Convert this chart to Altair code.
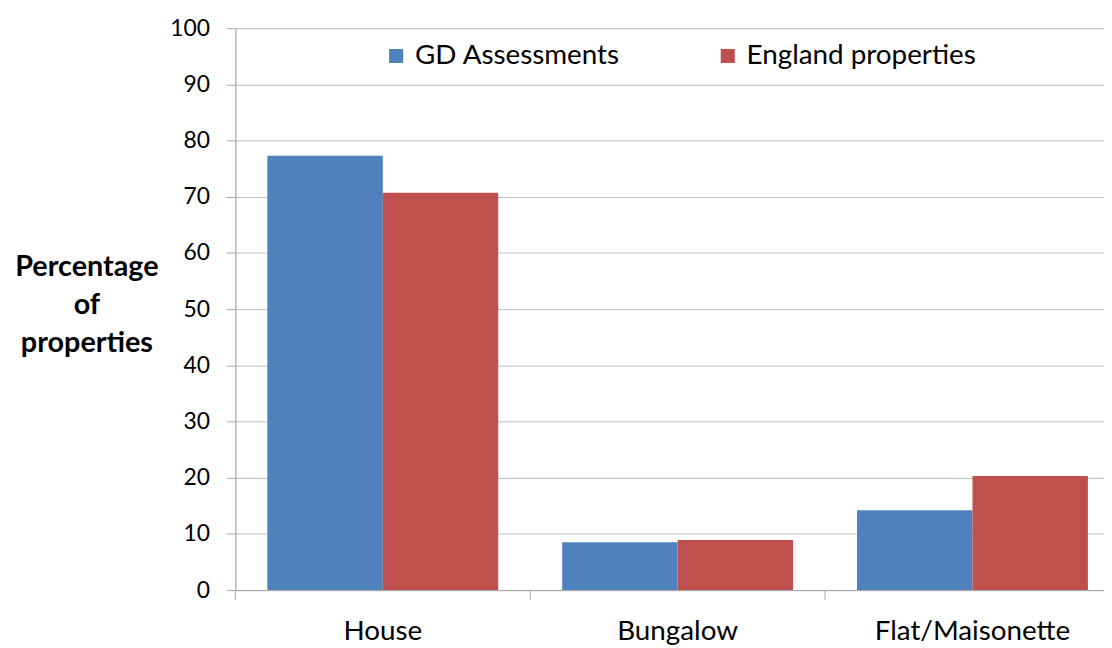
import altair as alt
import pandas as pd

categories = ["House", "Bungalow", "Flat/Maisonette"]
series = ["GD Assessments", "England properties"]
gd_values = [77.3, 8.5, 14.2]
england_values = [70.7, 8.9, 20.3]
colors = ["#4F81BD", "#C0504D"]

rows = []
for c, g, e in zip(categories, gd_values, england_values):
    rows.append({"category": c, "series": series[0], "value": g})
    rows.append({"category": c, "series": series[1], "value": e})
df = pd.DataFrame(rows)

FONT = "Lato"
H = 566
RANGE = [0, 891]

xscale = alt.Scale(domain=categories, range=RANGE, paddingInner=0.217, paddingOuter=0.1085)

bars = alt.Chart(df).mark_bar().encode(
    x=alt.X("category:N", sort=categories, scale=xscale,
            axis=alt.Axis(title=None, labelAngle=0, ticks=False, labelPadding=28,
                          labelFontSize=28, labelColor="#000000", labelFont=FONT,
                          domainColor="#a6a6a6", grid=False, labelLimit=400)),
    xOffset=alt.XOffset("series:N", sort=series),
    y=alt.Y("value:Q", scale=alt.Scale(domain=[0, 100], nice=False),
            axis=alt.Axis(values=list(range(0, 101, 10)), title=["Percentage", "of", "properties"],
                          titleAngle=0, titleX=-150, titleY=240, titleAlign="center",
                          titleBaseline="middle", titleLineHeight=38.5, titleFontSize=29,
                          titleFont=FONT, titleFontWeight="bold", titleColor="#000000",
                          labelFontSize=23, labelFont=FONT, labelColor="#000000",
                          tickSize=9, tickColor="#a6a6a6", domainColor="#a6a6a6",
                          gridColor="#bfbfbf", labelPadding=17)),
    color=alt.Color("series:N", sort=series, scale=alt.Scale(domain=series, range=colors),
                    legend=alt.Legend(title=None, orient="none", direction="horizontal",
                                      legendX=148, legendY=14, symbolType="square",
                                      symbolSize=200, symbolStrokeWidth=0, labelFontSize=28,
                                      labelFont=FONT, labelColor="#000000", labelOffset=5,
                                      labelLimit=500, columnPadding=94)),
)

tick_df = pd.DataFrame({"boundary": categories})
ticks = alt.Chart(tick_df).mark_rule(color="#a6a6a6", strokeWidth=1).encode(
    x=alt.X("boundary:N", sort=categories, bandPosition=0,
            scale=alt.Scale(domain=categories, range=RANGE, paddingInner=0, paddingOuter=0),
            axis=None),
    y=alt.value(H),
    y2=alt.value(H + 10),
)

chart = alt.layer(bars, ticks).resolve_scale(x="independent").properties(
    width=875, height=H,
    autosize="none",
    padding={"left": 229, "top": 18, "right": 0, "bottom": 56},
).configure_view(stroke=None).configure(font=FONT)

chart.save("out.html", embed_options={"renderer": "svg", "actions": False})
